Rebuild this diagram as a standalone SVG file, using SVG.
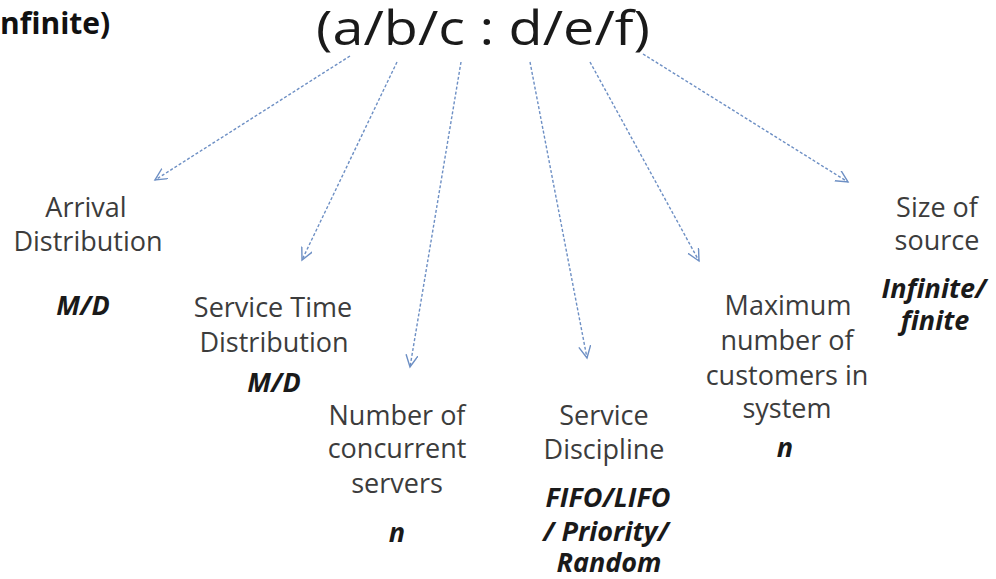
<svg xmlns="http://www.w3.org/2000/svg" width="996" height="579" viewBox="0 0 996 579">
<defs>
<marker id="arr" markerUnits="userSpaceOnUse" markerWidth="16" markerHeight="16" refX="12" refY="6" orient="auto">
<path d="M0,0 L12,6 L0,12" fill="none" stroke="#6d8fc4" stroke-width="1.4"/>
</marker>
<style>
.t{font-family:"Open Sans","Noto Sans",sans-serif;font-size:27px;fill:#3c3c3c;text-anchor:middle}
.v{font-family:"Open Sans","Noto Sans",sans-serif;font-size:27px;font-weight:bold;font-style:italic;fill:#1a1a1a;text-anchor:middle}
.c{fill:none;stroke:#6d8fc4;stroke-width:1.4;stroke-dasharray:3 2;marker-end:url(#arr)}
</style>
</defs>
<rect width="996" height="579" fill="#ffffff"/>
<g id="header">
<text x="0" y="34" font-family="'Open Sans','Noto Sans',sans-serif" font-size="30" font-weight="bold" fill="#111">nfinite)</text>
<text x="483" y="45" font-family="'Open Sans','Noto Sans',sans-serif" font-size="47" fill="#1a1a1a" text-anchor="middle" textLength="334" lengthAdjust="spacingAndGlyphs">(a/b/c : d/e/f)</text>
</g>
<g id="connectors">
<line class="c" x1="350" y1="56" x2="155" y2="180"/>
<line class="c" x1="397" y1="62" x2="302" y2="260"/>
<line class="c" x1="461" y1="62" x2="410" y2="367"/>
<line class="c" x1="530" y1="62" x2="587" y2="358"/>
<line class="c" x1="590" y1="62" x2="699" y2="261"/>
<line class="c" x1="643" y1="54" x2="848" y2="182"/>
</g>
<g id="arrival">
<text class="t" x="86" y="217">Arrival</text>
<text class="t" x="88" y="251">Distribution</text>
<text class="v" x="83" y="315">M/D</text>
</g>
<g id="service-time">
<text class="t" x="273" y="317">Service Time</text>
<text class="t" x="274" y="352">Distribution</text>
<text class="v" x="274" y="392">M/D</text>
</g>
<g id="servers">
<text class="t" x="397" y="425">Number of</text>
<text class="t" x="397" y="458">concurrent</text>
<text class="t" x="397" y="493">servers</text>
<text class="v" x="397" y="542">n</text>
</g>
<g id="discipline">
<text class="t" x="604" y="425">Service</text>
<text class="t" x="604" y="459">Discipline</text>
<text class="v" x="608" y="507">FIFO/LIFO</text>
<text class="v" x="606" y="541">/ Priority/</text>
<text class="v" x="609" y="572">Random</text>
</g>
<g id="capacity">
<text class="t" x="788" y="315">Maximum</text>
<text class="t" x="787" y="350">number of</text>
<text class="t" x="787" y="385">customers in</text>
<text class="t" x="787" y="418">system</text>
<text class="v" x="785" y="457">n</text>
</g>
<g id="source">
<text class="t" x="937" y="217">Size of</text>
<text class="t" x="937" y="250">source</text>
<text class="v" x="934" y="298">Infinite/</text>
<text class="v" x="935" y="330">finite</text>
</g>
</svg>
